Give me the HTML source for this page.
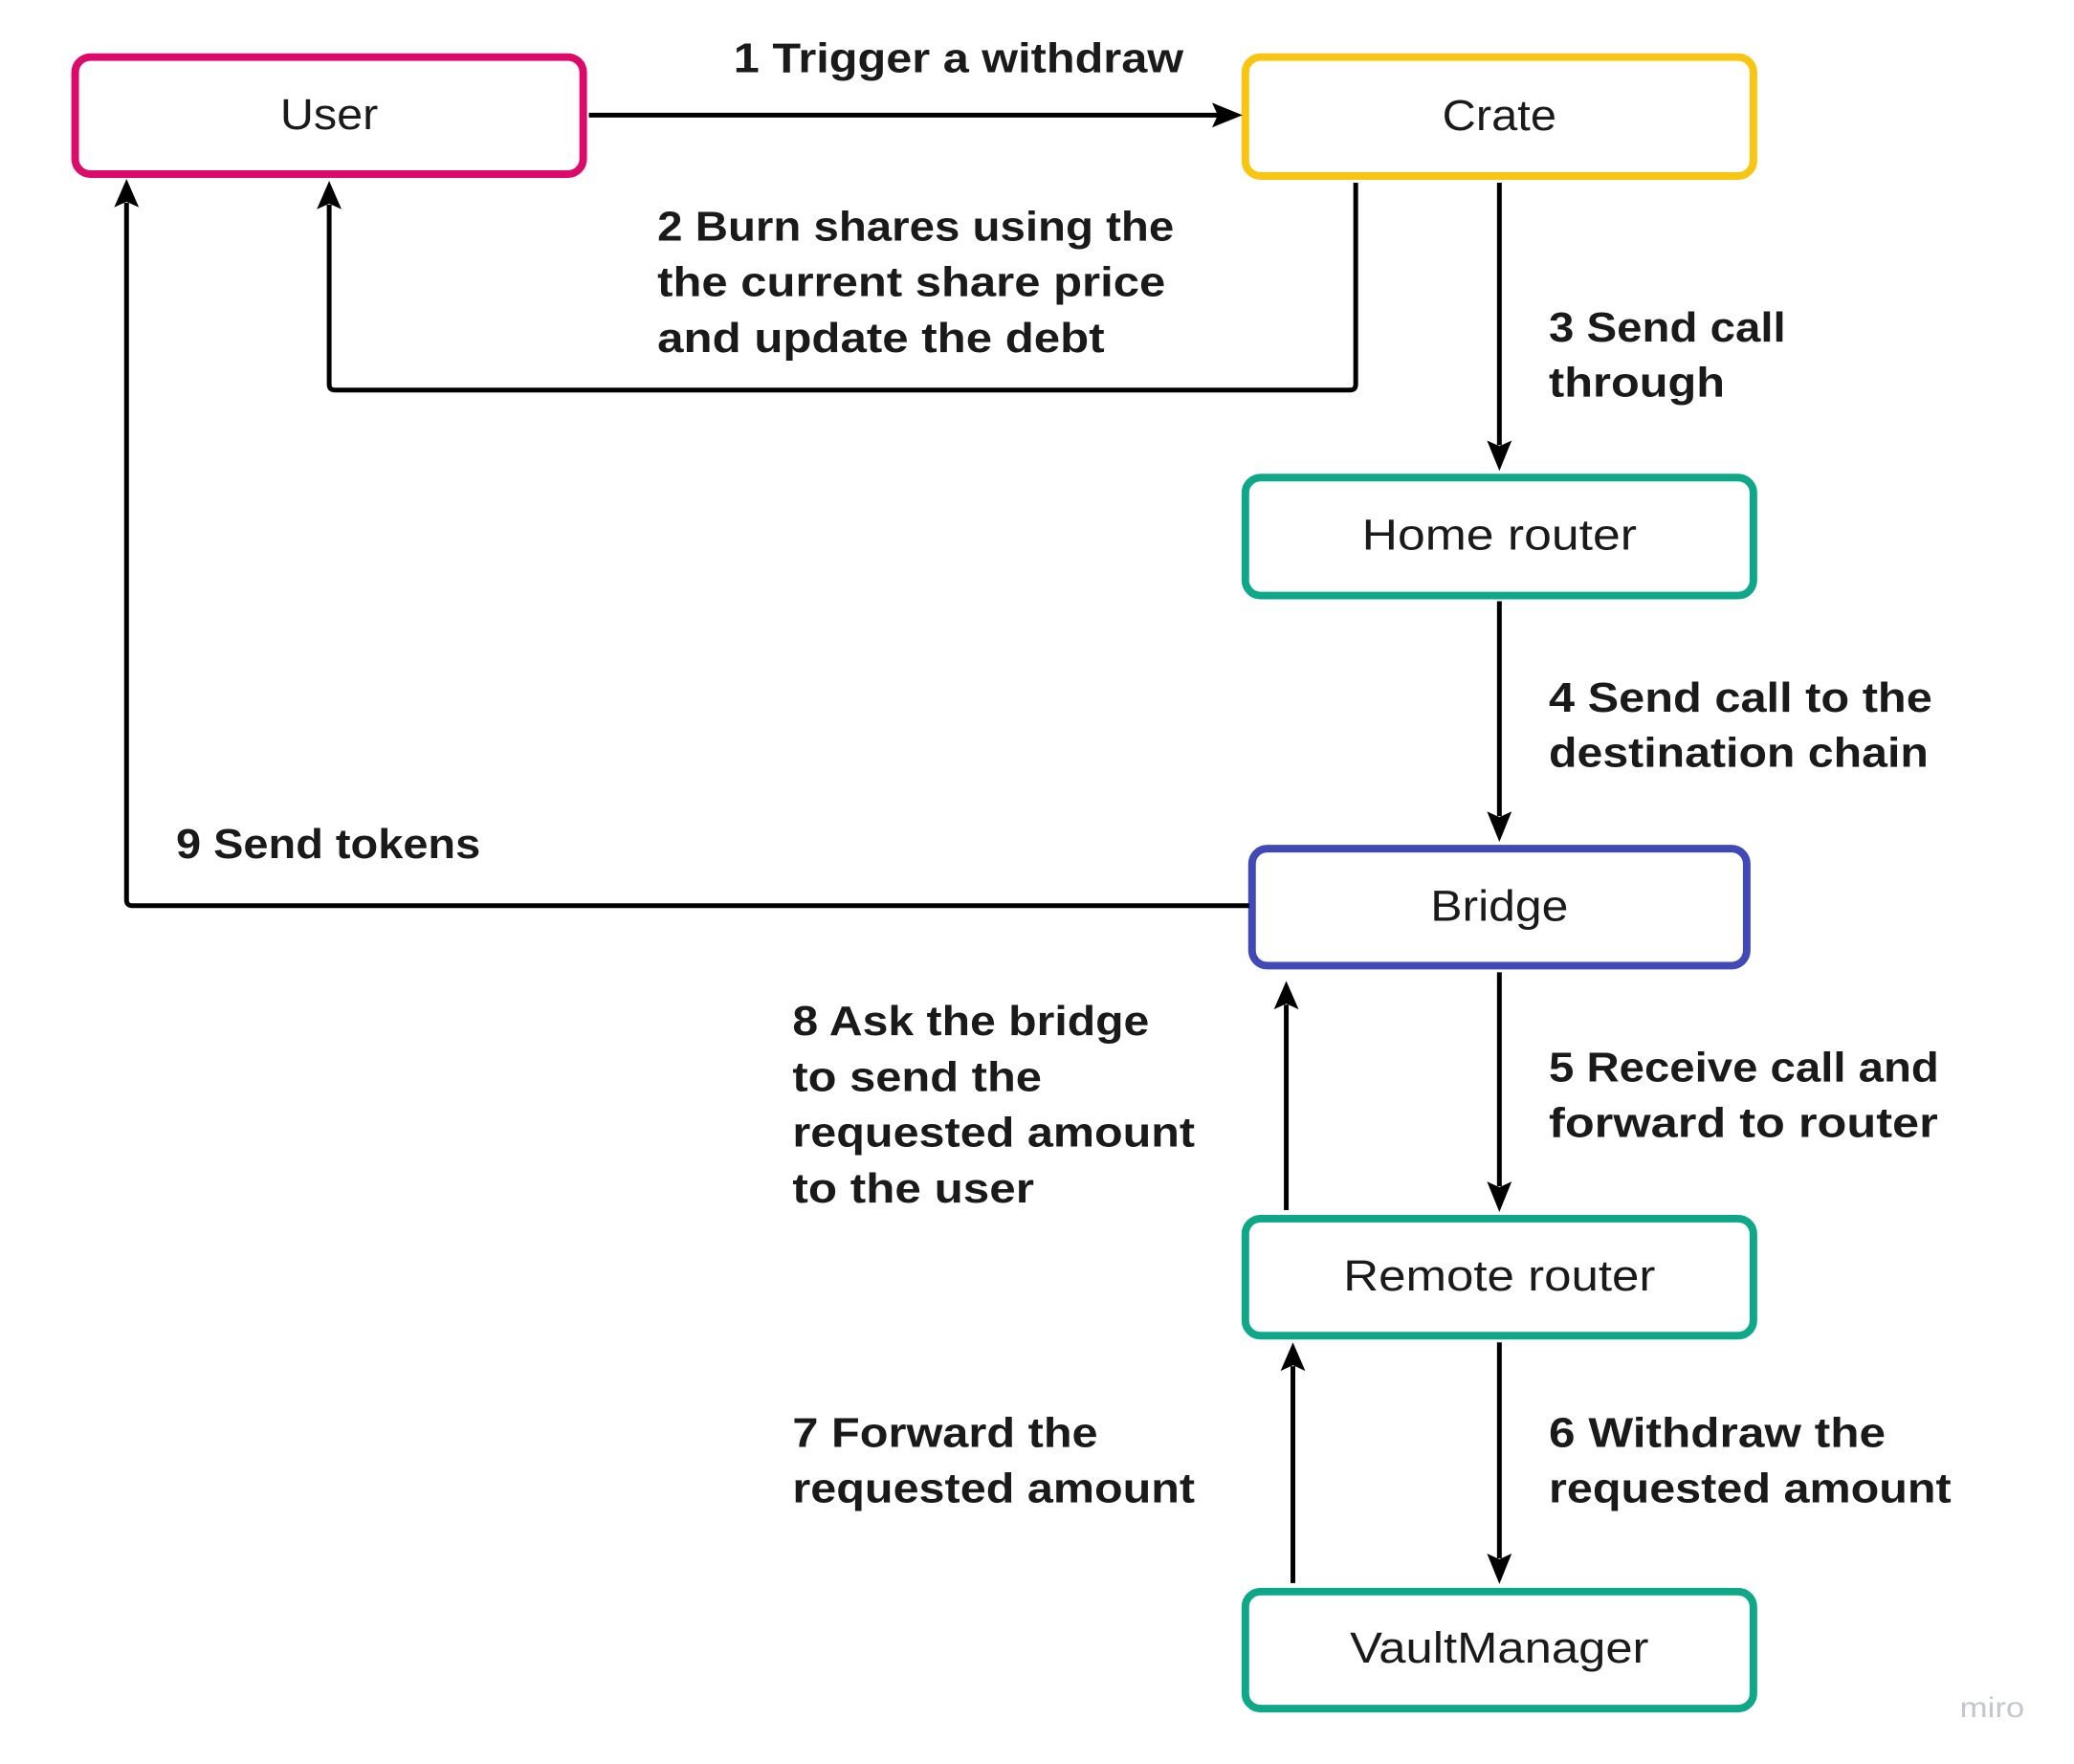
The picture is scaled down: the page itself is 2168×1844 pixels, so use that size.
<!DOCTYPE html>
<html><head><meta charset="utf-8"><style>
html,body{margin:0;padding:0;background:#fff;}
svg{display:block;}
.n{font-family:"Liberation Sans",sans-serif;font-size:46px;fill:#1a1a1a;}
.l{font-family:"Liberation Sans",sans-serif;font-weight:bold;font-size:44px;fill:#1a1a1a;}
</style></head><body>
<svg width="2168" height="1844" viewBox="0 0 2168 1844" xmlns="http://www.w3.org/2000/svg">
<g transform="scale(0.9945)">
<g fill="#fff" stroke-width="8">
<rect x="79" y="60" width="534" height="123" rx="16" stroke="#dc0b6b"/>
<rect x="1309" y="60" width="534" height="125" rx="16" stroke="#f9c513"/>
<rect x="1309" y="502" width="534" height="124" rx="16" stroke="#0ea889"/>
<rect x="1316" y="892" width="520" height="123" rx="16" stroke="#4149b8"/>
<rect x="1309" y="1281" width="534" height="123" rx="16" stroke="#0ea889"/>
<rect x="1309" y="1673" width="534" height="123" rx="16" stroke="#0ea889"/>
</g>
<g fill="none" stroke="#000" stroke-width="5" stroke-linejoin="round">
<path d="M619 121 H1280"/>
<path d="M1425 192 V404 Q1425 410 1419 410 H352 Q346 410 346 404 V215"/>
<path d="M1576 192 V468"/>
<path d="M1576 632 V858"/>
<path d="M1313 952 H139 Q133 952 133 946 V213"/>
<path d="M1576 1022 V1247"/>
<path d="M1352 1272 V1056"/>
<path d="M1576 1411 V1638"/>
<path d="M1359 1664 V1436"/>
</g>
<g fill="#000">
<polygon points="1306,121 1274,108 1280,121 1274,134"/>
<polygon points="346,190 333,220 346,214 359,220"/>
<polygon points="1576,495 1563,463 1576,469 1589,463"/>
<polygon points="1576,885 1563,853 1576,859 1589,853"/>
<polygon points="133,188 120,218 133,212 146,218"/>
<polygon points="1576,1274 1563,1242 1576,1248 1589,1242"/>
<polygon points="1352,1031 1339,1061 1352,1055 1365,1061"/>
<polygon points="1576,1665 1563,1633 1576,1639 1589,1633"/>
<polygon points="1359,1411 1346,1441 1359,1435 1372,1441"/>
</g>
<g class="n" text-anchor="middle" dominant-baseline="central">
<text x="346" y="120" textLength="103" lengthAdjust="spacingAndGlyphs">User</text>
<text x="1576" y="121" textLength="120" lengthAdjust="spacingAndGlyphs">Crate</text>
<text x="1576" y="562" textLength="289" lengthAdjust="spacingAndGlyphs">Home router</text>
<text x="1576" y="952" textLength="145" lengthAdjust="spacingAndGlyphs">Bridge</text>
<text x="1576" y="1341" textLength="328" lengthAdjust="spacingAndGlyphs">Remote router</text>
<text x="1576" y="1732" textLength="314" lengthAdjust="spacingAndGlyphs">VaultManager</text>
</g>
<g class="l">
<text x="771" y="76" textLength="473" lengthAdjust="spacingAndGlyphs">1 Trigger a withdraw</text>
<text x="691" y="253" textLength="543" lengthAdjust="spacingAndGlyphs">2 Burn shares using the</text>
<text x="691" y="311" textLength="534" lengthAdjust="spacingAndGlyphs">the current share price</text>
<text x="691" y="370" textLength="470" lengthAdjust="spacingAndGlyphs">and update the debt</text>
<text x="1628" y="359" textLength="249" lengthAdjust="spacingAndGlyphs">3 Send call</text>
<text x="1628" y="417" textLength="185" lengthAdjust="spacingAndGlyphs">through</text>
<text x="1628" y="748" textLength="403" lengthAdjust="spacingAndGlyphs">4 Send call to the</text>
<text x="1628" y="806" textLength="399" lengthAdjust="spacingAndGlyphs">destination chain</text>
<text x="185" y="902" textLength="320" lengthAdjust="spacingAndGlyphs">9 Send tokens</text>
<text x="833" y="1088" textLength="375" lengthAdjust="spacingAndGlyphs">8 Ask the bridge</text>
<text x="833" y="1147" textLength="262" lengthAdjust="spacingAndGlyphs">to send the</text>
<text x="833" y="1205" textLength="423" lengthAdjust="spacingAndGlyphs">requested amount</text>
<text x="833" y="1264" textLength="254" lengthAdjust="spacingAndGlyphs">to the user</text>
<text x="1628" y="1137" textLength="410" lengthAdjust="spacingAndGlyphs">5 Receive call and</text>
<text x="1628" y="1195" textLength="409" lengthAdjust="spacingAndGlyphs">forward to router</text>
<text x="833" y="1521" textLength="321" lengthAdjust="spacingAndGlyphs">7 Forward the</text>
<text x="833" y="1579" textLength="423" lengthAdjust="spacingAndGlyphs">requested amount</text>
<text x="1628" y="1521" textLength="354" lengthAdjust="spacingAndGlyphs">6 Withdraw the</text>
<text x="1628" y="1579" textLength="423" lengthAdjust="spacingAndGlyphs">requested amount</text>
</g>
<text x="2060" y="1805" font-family="Liberation Sans,sans-serif" font-size="30" fill="#c4c6d0" textLength="68" lengthAdjust="spacingAndGlyphs">miro</text>
</g>
</svg>
</body></html>
